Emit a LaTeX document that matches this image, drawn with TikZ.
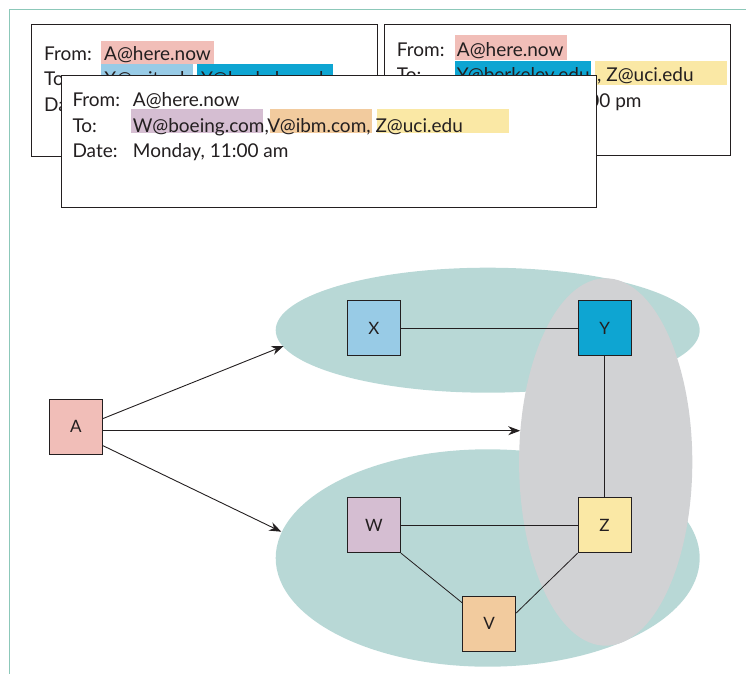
\documentclass[tikz,border=0pt]{standalone}
\usepackage{fontspec}
\setmainfont{Lato}
\usetikzlibrary{arrows.meta}

\definecolor{hostA}{RGB}{241,190,184}
\definecolor{hostX}{RGB}{152,203,230}
\definecolor{hostY}{RGB}{14,165,210}
\definecolor{hostW}{RGB}{213,190,210}
\definecolor{hostZ}{RGB}{250,232,165}
\definecolor{hostV}{RGB}{242,203,158}
\definecolor{groupteal}{RGB}{184,216,214}
\definecolor{groupgray}{RGB}{209,210,212}
\definecolor{frameteal}{RGB}{140,200,185}
\definecolor{ink}{RGB}{35,31,32}

\begin{document}
\begin{tikzpicture}[x=1pt, y=-1pt, font=\fontsize{19}{23}\selectfont,
  mailbox/.style={draw=ink, line width=1pt, fill=white},
  txt/.style={anchor=base west, inner sep=0pt, text=ink},
  host/.style={draw=ink, line width=0.9pt, minimum width=53pt, minimum height=55pt,
    inner sep=0pt, text=ink, font=\fontsize{17}{17}\selectfont},
  link/.style={ink, line width=0.8pt},
  send/.style={ink, line width=0.9pt, -{Stealth[length=12pt, width=9pt]}}]
  \useasboundingbox (0,0) rectangle (746,674);
  \draw[frameteal, line width=1.1pt] (746,9.5) -- (9.5,9.5) -- (9.5,674);

  % first message, back left
  \draw[mailbox] (31.7,24.3) rectangle (377.7,156);
  \fill[hostA] (101,41) rectangle (213.7,63.7);
  \fill[hostX] (101,64) rectangle (192.7,88);
  \fill[hostY] (197,64) rectangle (333,88);
  \node[txt] (m1from) at (44,60.7) {From:};
  \node[txt] (m1a) at (104,60.7) {A@here.now};
  \node[txt] (m1to) at (44,86) {To:};
  \node[txt] (m1x) at (104,86) {X@mit.edu,};
  \node[txt] (m1y) at (201,86) {Y@berkeley.edu};
  \node[txt] (m1date) at (44,111.3) {Date:};

  % second message, back right
  \draw[mailbox] (384.7,24.3) rectangle (730.7,155);
  \fill[hostA] (455,35) rectangle (567,60);
  \fill[hostY] (455,61) rectangle (591,85);
  \fill[hostZ] (595,61) rectangle (726.7,85);
  \node[txt] (m2from) at (396.7,56.7) {From:};
  \node[txt] (m2a) at (456.7,56.7) {A@here.now};
  \node[txt] (m2to) at (396.7,82) {To:};
  \node[txt] (m2y) at (456.7,82) {Y@berkeley.edu};
  \node[txt] (m2z) at (597,82) {, Z@uci.edu};
  \node[txt] (m2date) at (396.7,107.3) {Date:};
  \node[txt, anchor=base east] (m2when) at (641.7,107.3) {Sunday, 10:00 pm};

  % front message
  \draw[mailbox] (61,75.7) rectangle (596.7,207.3);
  \fill[hostW] (131,109) rectangle (263,132.7);
  \fill[hostV] (270,109) rectangle (372,132.7);
  \fill[hostZ] (377,109) rectangle (509,132.7);
  \node[txt] (m3from) at (72.3,106.7) {From:};
  \node[txt] (m3a) at (132.7,106.7) {A@here.now};
  \node[txt] (m3to) at (72.3,132) {To:};
  \node[txt] (m3list) at (132.7,132) {W@boeing.com,V@ibm.com, Z@uci.edu};
  \node[txt] (m3date) at (72.3,157.3) {Date:};
  \node[txt] (m3when) at (132.7,157.3) {Monday, 11:00 am};

  % groups
  \fill[groupteal] (487.7,330.2) ellipse [x radius=212, y radius=62.5];
  \fill[groupteal] (487.7,558) ellipse [x radius=212, y radius=108.7];
  \fill[groupgray] (605.7,462) ellipse [x radius=86.6, y radius=183.7];

  % hosts
  \node[host, fill=hostA] (A) at (76,426.8) {A};
  \node[host, fill=hostX] (X) at (374,328) {X};
  \node[host, fill=hostY] (Y) at (604.6,328) {Y};
  \node[host, fill=hostW] (W) at (374,525.2) {W};
  \node[host, fill=hostZ] (Z) at (604.6,525.2) {Z};
  \node[host, fill=hostV] (V) at (489.2,623.9) {V};

  \draw[link] (X) -- (Y);
  \draw[link] (Y) -- (Z);
  \draw[link] (W) -- (Z);
  \draw[link] (W.south east) -- (V.142);
  \draw[link] (Z.south west) -- (V.22);

  \coordinate (topin) at (283.6,346);
  \coordinate (midin) at (520.2,430.7);
  \coordinate (botin) at (281.3,531.7);
  \draw[send] (A.17) -- (topin);
  \draw[send] (A.east |- midin) -- (midin);
  \draw[send] (A.-35) -- (botin);
\end{tikzpicture}
\end{document}
